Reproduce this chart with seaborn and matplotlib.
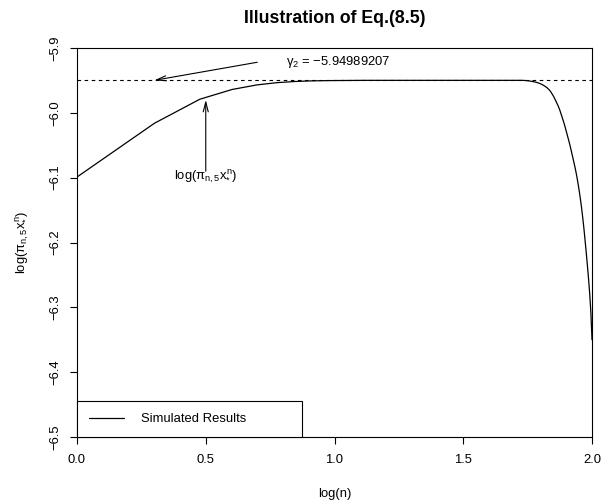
import numpy as np
import matplotlib
matplotlib.use("Agg")
import matplotlib.pyplot as plt
import seaborn as sns

# ---- data ----
n_values = list(range(1, 101))
log_pi_values = [
    -6.0990, -6.0160, -5.9790, -5.9640, -5.9569, -5.9534, -5.9517, -5.9508, -5.9504, -5.9502,
    -5.9501, -5.9500, -5.9499, -5.9499, -5.9499, -5.9499, -5.9499, -5.9499, -5.9499, -5.9499,
    -5.9499, -5.9499, -5.9499, -5.9499, -5.9499, -5.9499, -5.9499, -5.9499, -5.9499, -5.9499,
    -5.9499, -5.9499, -5.9499, -5.9499, -5.9499, -5.9499, -5.9499, -5.9499, -5.9499, -5.9499,
    -5.9499, -5.9499, -5.9499, -5.9499, -5.9499, -5.9499, -5.9499, -5.9499, -5.9499, -5.9499,
    -5.9499, -5.9499, -5.9499, -5.9499, -5.9502, -5.9504, -5.9508, -5.9513, -5.9518, -5.9524,
    -5.9531, -5.9540, -5.9551, -5.9564, -5.9579, -5.9596, -5.9616, -5.9640, -5.9669, -5.9709,
    -5.9749, -5.9799, -5.9849, -5.9899, -5.9959, -6.0029, -6.0099, -6.0169, -6.0249, -6.0329,
    -6.0409, -6.0489, -6.0579, -6.0669, -6.0759, -6.0849, -6.0949, -6.1059, -6.1179, -6.1309,
    -6.1449, -6.1609, -6.1779, -6.1969, -6.2159, -6.2359, -6.2569, -6.2799, -6.3079, -6.3500,
]
gamma2 = -5.94989207
x_ticks = [0.0, 0.5, 1.0, 1.5, 2.0]
y_ticks = [-6.5, -6.4, -6.3, -6.2, -6.1, -6.0, -5.9]

x_vals = np.log10(n_values)

sns.set_style("ticks")
plt.rcParams["font.family"] = ["Liberation Sans", "DejaVu Sans"]
plt.rcParams["mathtext.fontset"] = "custom"
plt.rcParams["mathtext.rm"] = "Liberation Sans"
plt.rcParams["mathtext.it"] = "Liberation Sans"
plt.rcParams["mathtext.bf"] = "Liberation Sans:bold"
plt.rcParams["mathtext.sf"] = "Liberation Sans"
plt.rcParams["axes.unicode_minus"] = True
plt.rcParams["text.color"] = "black"
plt.rcParams["axes.labelcolor"] = "black"
plt.rcParams["axes.titlecolor"] = "black"

FS = 9.4

fig = plt.figure(figsize=(6.03, 5.01), dpi=100)
ax = fig.add_axes([77 / 603, 1 - 437 / 501, (592 - 77) / 603, (437 - 48) / 501])

sns.lineplot(x=x_vals, y=log_pi_values, color="black", linewidth=0.9,
             estimator=None, sort=False, ax=ax, label="Simulated Results")

ax.axhline(gamma2, color="black", linewidth=0.8, linestyle=(0, (3.2, 3.2)))

ax.set_xlim(0, 2)
ax.set_ylim(-6.5, -5.9)
ax.set_xticks(x_ticks)
ax.set_xticklabels([f"{v:.1f}" for v in x_ticks], fontsize=FS)
ax.set_yticks(y_ticks)
ax.set_yticklabels([f"{v:.1f}".replace("-", "\u2212") for v in y_ticks],
                   fontsize=FS, rotation=90, va="center")
ax.tick_params(direction="out", length=5, width=0.8, color="black",
               labelcolor="black")
ax.tick_params(axis="x", pad=7)
ax.tick_params(axis="y", pad=6)
for s in ax.spines.values():
    s.set_visible(True)
    s.set_color("black")
    s.set_linewidth(0.8)

ax.set_xlabel("log(n)", fontsize=FS, va="center", color="black")
ax.xaxis.set_label_coords(0.5, -0.146)
ax.set_ylabel(r"$\log(\pi_{n,5}x_{*}^{n})$", fontsize=FS, va="center",
              color="black")
ax.yaxis.set_label_coords(-0.104, 0.5)

ax.set_title("Illustration of Eq.(8.5)", fontsize=12.8, fontweight="bold",
             y=1.077, va="center", pad=0, color="black")

arrow = dict(arrowstyle="->,head_length=0.7,head_width=0.18", color="black",
             linewidth=0.8, shrinkA=0, shrinkB=0)
ax.annotate("", xy=(0.3, gamma2), xytext=(0.7, -5.922), arrowprops=arrow)
ax.text(1.015, -5.9215, r"$\gamma_2$ = " + "\u2212" + "5.94989207",
        fontsize=FS, ha="center", va="center", color="black")
ax.annotate("", xy=(0.5, -5.980), xytext=(0.5, -6.090), arrowprops=arrow)
ax.text(0.5, -6.100, r"$\log(\pi_{n,5}x_{*}^{n})$", fontsize=FS,
        ha="center", va="center", color="black")

leg = ax.legend(loc="lower left", bbox_to_anchor=(0, 0, 0.437, 0.09),
                mode="expand", borderaxespad=0, fancybox=False,
                edgecolor="black", framealpha=1, handlelength=2.7,
                handletextpad=1.3, borderpad=0.9, fontsize=FS)
leg.get_frame().set_linewidth(0.8)
for t in leg.get_texts():
    t.set_color("black")

fig.savefig("out.png", dpi=100)
